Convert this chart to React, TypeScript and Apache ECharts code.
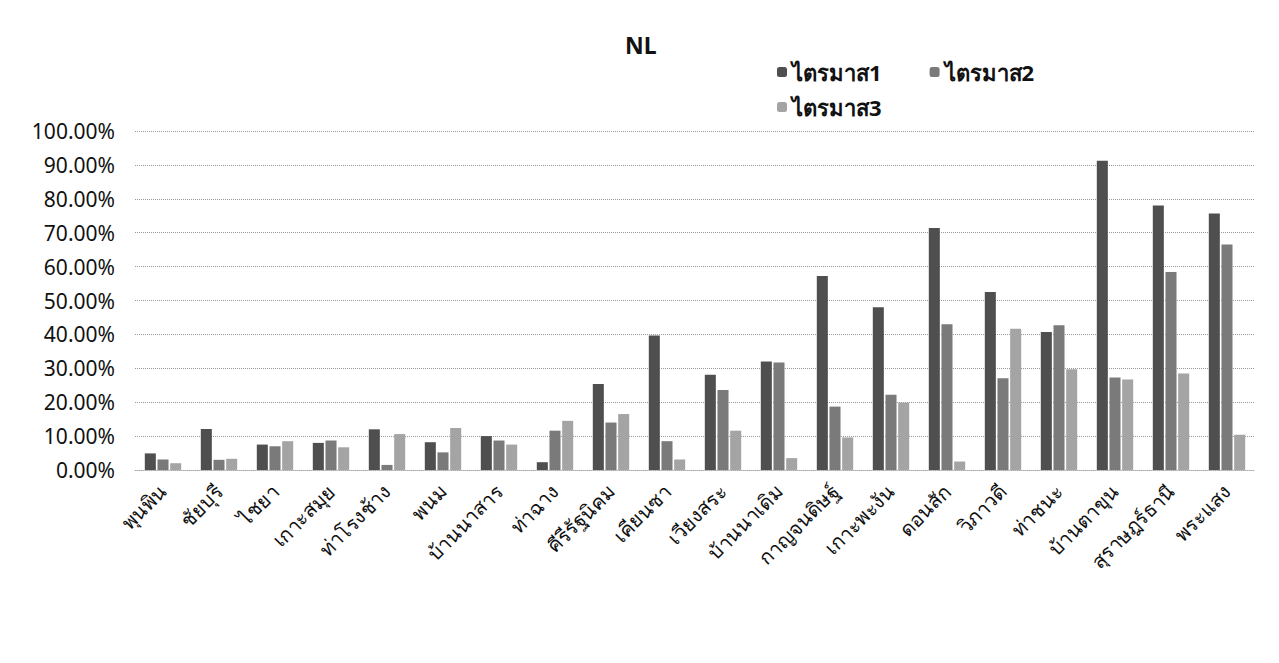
import React, { useEffect, useRef } from "react";
import * as echarts from "echarts";

const categories = [
  "พุนพิน", "ชัยบุรี", "ไชยา", "เกาะสมุย", "ท่าโรงช้าง", "พนม", "บ้านนาสาร",
  "ท่าฉาง", "คีรีรัฐนิคม", "เคียนซา", "เวียงสระ", "บ้านนาเดิม", "กาญจนดิษฐ์",
  "เกาะพะงัน", "ดอนสัก", "วิภาวดี", "ท่าชนะ", "บ้านตาขุน", "สุราษฎร์ธานี", "พระแสง",
];
const q1 = [4.9, 12.1, 7.5, 8.0, 12.0, 8.2, 10.0, 2.3, 25.4, 39.7, 28.1, 32.0, 57.2, 48.0, 71.4, 52.5, 40.7, 91.2, 78.0, 75.7];
const q2 = [3.1, 3.0, 7.0, 8.7, 1.5, 5.2, 8.7, 11.6, 14.0, 8.5, 23.6, 31.7, 18.7, 22.2, 43.0, 27.1, 42.7, 27.3, 58.4, 66.5];
const q3 = [2.0, 3.3, 8.5, 6.7, 10.6, 12.4, 7.5, 14.5, 16.5, 3.1, 11.6, 3.5, 9.6, 19.9, 2.5, 41.7, 29.7, 26.7, 28.5, 10.4];
const seriesNames = ["ไตรมาส1", "ไตรมาส2", "ไตรมาส3"];
const colors = ["#4f4f4f", "#7a7a7a", "#a4a4a4"];

const FONT = "'Noto Sans', 'Open Sans', sans-serif";

export default function App() {
  const ref = useRef<HTMLDivElement>(null);
  useEffect(() => {
    if (!ref.current) return;
    const chart = echarts.init(ref.current, null, { renderer: "svg" });
    const data = [q1, q2, q3];
    const legendText = { fontFamily: FONT, fontSize: 22, fontWeight: "bold", color: "#111" };
    chart.setOption({
      animation: false,
      backgroundColor: "#ffffff",
      title: {
        text: "NL",
        left: 620,
        top: 28,
        textStyle: { fontFamily: FONT, fontSize: 23, fontWeight: "bold", color: "#111" },
      },
      legend: [
        {
          left: 772,
          top: 56,
          itemWidth: 10,
          itemHeight: 10,
          itemGap: 48,
          textStyle: legendText,
          data: [seriesNames[0], seriesNames[1]],
        },
        {
          left: 772,
          top: 91,
          itemWidth: 10,
          itemHeight: 10,
          textStyle: legendText,
          data: [seriesNames[2]],
        },
      ],
      grid: { left: 135, right: 24, top: 131, bottom: 193 },
      xAxis: {
        type: "category",
        data: categories,
        axisTick: { show: false },
        axisLine: { lineStyle: { color: "#aaa", type: "dotted" } },
        axisLabel: {
          rotate: 45,
          interval: 0,
          margin: 18,
          fontFamily: FONT,
          fontSize: 20,
          color: "#111",
        },
      },
      yAxis: {
        type: "value",
        min: 0,
        max: 100,
        interval: 10,
        axisLine: { show: false },
        axisTick: { show: false },
        splitLine: { lineStyle: { color: "#999", type: "dotted", width: 1 } },
        axisLabel: {
          margin: 20,
          fontFamily: FONT,
          fontSize: 21,
          color: "#111",
          formatter: (v: number) => v.toFixed(2) + "%",
        },
      },
      series: seriesNames.map((name, i) => ({
        name,
        type: "bar",
        data: data[i],
        barGap: "15%",
        barCategoryGap: "35%",
        itemStyle: { color: colors[i] },
      })),
    });
    return () => chart.dispose();
  }, []);
  return (
    <div
      ref={ref}
      style={{ position: "absolute", left: 0, top: 0, width: 1279, height: 663 }}
    />
  );
}
